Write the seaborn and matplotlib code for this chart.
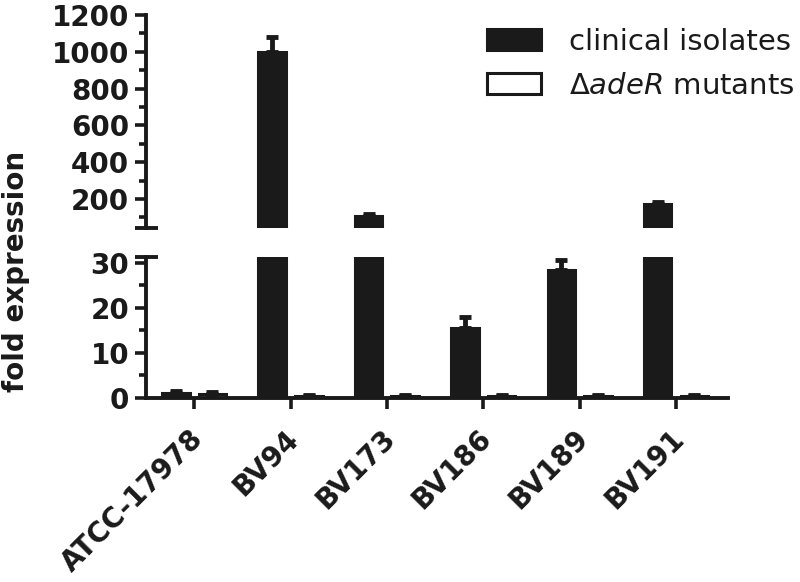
import numpy as np
import pandas as pd
import matplotlib
matplotlib.use("Agg")
import matplotlib.pyplot as plt
import matplotlib.transforms as mtransforms
import seaborn as sns

# Values
strains = ["ATCC-17978", "BV94", "BV173", "BV186", "BV189", "BV191"]
clinical = [1.0, 1000, 106, 15.5, 28.3, 170]
clinical_err = [0.45, 82, 11, 2.4, 2.4, 12]
mutant = [0.9, 0.4, 0.4, 0.45, 0.45, 0.4]
mutant_err = [0.4, 0.15, 0.15, 0.15, 0.1, 0.15]
groups = ["clinical isolates", r"$\mathit{\Delta adeR}$ mutants"]

df = pd.DataFrame({
    "strain": strains * 2,
    "group": [groups[0]] * len(strains) + [groups[1]] * len(strains),
    "value": clinical + mutant,
})
errs = [clinical_err, mutant_err]

ink = "#1a1a1a"
sns.set_style("ticks")
plt.rcParams["font.family"] = ["DejaVu Sans"]
plt.rcParams["mathtext.fontset"] = "dejavusans"
plt.rcParams.update({"text.color": ink, "xtick.color": ink,
                     "ytick.color": ink, "axes.labelcolor": ink})

fig = plt.figure(figsize=(8, 5.82), dpi=100)
ax_top = fig.add_axes([0.1825, 0.6082, 0.7275, 0.366])
ax_bot = fig.add_axes([0.1825, 0.3162, 0.7275, 0.2423])
limits = {ax_top: (42, 1200), ax_bot: (0, 31.3)}

for ax in (ax_top, ax_bot):
    sns.barplot(data=df, x="strain", y="value", hue="group", ax=ax,
                palette={groups[0]: ink, groups[1]: "white"},
                edgecolor=ink, linewidth=2.2, width=0.76, gap=0.25,
                errorbar=None, legend=(ax is ax_bot))
    lo, hi = limits[ax]
    ax.set_ylim(lo, hi)
    for cont, err in zip(ax.containers, errs):
        xs, ys, es = [], [], []
        for b, e in zip(cont, err):
            top = b.get_height()
            if lo <= top <= hi:  # only where the bar ends inside this segment
                xs.append(b.get_x() + b.get_width() / 2)
                ys.append(top)
                es.append(e)
        if xs:
            ax.errorbar(xs, ys, yerr=[np.zeros(len(es)), es], fmt="none",
                        ecolor=ink, elinewidth=3.5, capsize=4, capthick=3.5,
                        zorder=1)
    ax.set_xlim(-0.5, 5.54)
    ax.set_xlabel("")
    ax.set_ylabel("")
    for s in ("top", "right"):
        ax.spines[s].set_visible(False)
    ax.spines["left"].set_linewidth(2.8)
    ax.spines["left"].set_color(ink)
    ax.tick_params(axis="y", which="major", length=8, width=2.6,
                   labelsize=20, pad=4)
    ax.tick_params(axis="y", which="minor", length=5, width=2.6)

# upper segment
ax_top.set_yticks([200, 400, 600, 800, 1000, 1200])
ax_top.set_yticks(np.arange(100, 1200, 100), minor=True)
ax_top.spines["bottom"].set_visible(False)
ax_top.tick_params(axis="x", bottom=False, labelbottom=False)

# lower segment
ax_bot.set_yticks([0, 10, 20, 30])
ax_bot.set_yticks(np.arange(0, 31, 5), minor=True)
ax_bot.spines["bottom"].set_linewidth(2.8)
ax_bot.spines["bottom"].set_color(ink)
ax_bot.tick_params(axis="x", length=8, width=2.6, labelsize=20, pad=11)

for ax in (ax_top, ax_bot):
    for lab in ax.get_yticklabels():
        lab.set_fontweight("bold")
shift = mtransforms.ScaledTranslation(-4 / 72, 0, fig.dpi_scale_trans)
for lab in ax_bot.get_xticklabels():
    lab.set_fontweight("bold")
    lab.set_rotation(45)
    lab.set_ha("right")
    lab.set_rotation_mode("anchor")
    lab.set_transform(lab.get_transform() + shift)

# break marks
ax_top.plot([-0.019, 0.021], [0, 0], transform=ax_top.transAxes,
            color=ink, lw=2.8, clip_on=False, solid_capstyle="butt")
ax_bot.plot([-0.019, 0.021], [1, 1], transform=ax_bot.transAxes,
            color=ink, lw=2.8, clip_on=False, solid_capstyle="butt")

# legend
handles, labels = ax_bot.get_legend_handles_labels()
ax_bot.get_legend().remove()
fig.legend(handles, labels, loc="upper left", bbox_to_anchor=(0.609, 0.952),
           frameon=False, fontsize=21, handlelength=1.85, handleheight=0.75,
           handletextpad=0.95, labelspacing=0.55, borderpad=0, borderaxespad=0)

fig.text(0.02, 0.534, "fold expression", rotation=90, ha="center",
         va="center", fontsize=20, fontweight="bold")

fig.savefig("out.png", dpi=100)
